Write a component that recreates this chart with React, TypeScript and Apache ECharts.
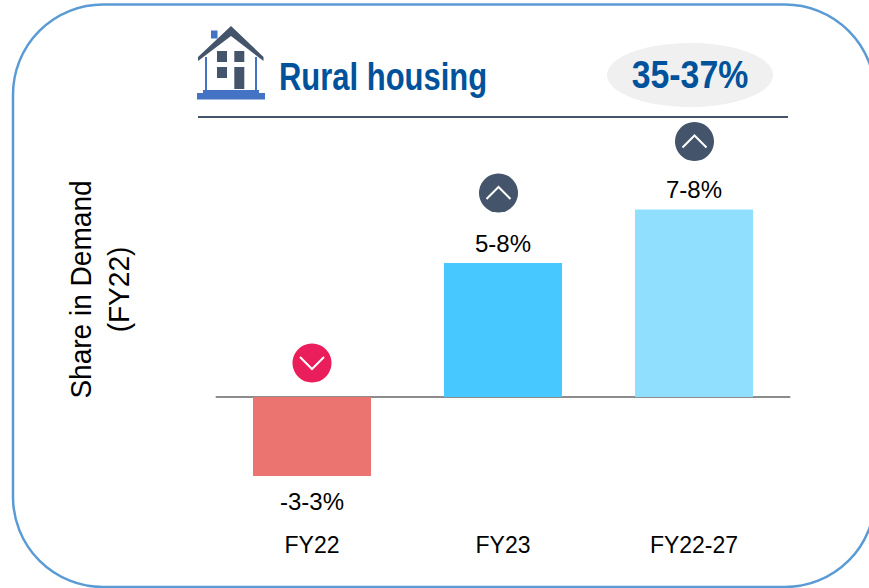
import React, { useEffect, useRef } from "react";
import * as echarts from "echarts";

const categories = ["FY22", "FY23", "FY22-27"];
const values = [-2.95, 5, 7];
const valueLabels = ["-3-3%", "5-8%", "7-8%"];
const barColors = ["#EC7470", "#47C9FF", "#91DFFF"];
const titleText = "Rural housing";
const badgeText = "35-37%";
const axisTitle = "Share in Demand\n(FY22)";
const FONT = '"Liberation Sans", Arial, sans-serif';

function chevron(cx: number, cy: number, up: boolean, fill: string) {
  const d = up ? -6 : 6;
  return [
    { type: "circle", shape: { cx, cy, r: 19.5 }, style: { fill } },
    {
      type: "polyline",
      shape: { points: [[cx - 12, cy - d], [cx, cy + d], [cx + 12, cy - d]] },
      style: { stroke: "#fff", lineWidth: 2, fill: "none" },
    },
  ];
}

const rect = (x: number, y: number, width: number, height: number, fill: string) => ({
  type: "rect",
  shape: { x, y, width, height },
  style: { fill },
});

export default function App() {
  const ref = useRef<HTMLDivElement>(null);
  useEffect(() => {
    document.body.style.margin = "0";
    const chart = echarts.init(ref.current!, null, { renderer: "svg" });
    chart.setOption({
      animation: false,
      backgroundColor: "#fff",
      grid: { left: 216.5, width: 573, top: 129, height: 402, outerBoundsMode: "none" },
      xAxis: {
        type: "category",
        data: categories,
        axisTick: { show: false },
        axisLine: { onZero: true, lineStyle: { color: "#8C8C8C", width: 2 } },
        axisLabel: { color: "#000", fontFamily: FONT, fontSize: 23, margin: 2 },
      },
      yAxis: { type: "value", min: -5, max: 10, show: false, splitLine: { show: false } },
      series: [
        {
          type: "bar",
          barWidth: 118,
          data: values.map((v, i) => ({
            value: v,
            itemStyle: { color: barColors[i] },
            label: {
              show: true,
              position: v < 0 ? "bottom" : "top",
              distance: v < 0 ? 13 : 8,
              formatter: valueLabels[i],
              color: "#000",
              fontFamily: FONT,
              fontSize: 24,
            },
          })),
        },
      ],
      graphic: [
        {
          type: "rect",
          shape: { x: 13, y: 4.5, width: 862, height: 582.5, r: 90 },
          style: { fill: "none", stroke: "#5B9BD5", lineWidth: 2.5 },
        },
        // house icon
        rect(211, 30.5, 6.5, 8, "#4472C4"),
        rect(205, 57, 2, 33, "#4472C4"),
        rect(255, 57, 2, 33, "#4472C4"),
        rect(203, 90, 56, 3, "#4472C4"),
        rect(197, 93, 68, 6.5, "#4472C4"),
        {
          type: "polygon",
          shape: { points: [[231, 26], [263.5, 57], [263.5, 61], [231, 36], [198, 61], [198, 57]] },
          style: { fill: "#44546A" },
        },
        rect(217, 51, 10, 11, "#44546A"),
        rect(234.3, 51, 10, 11, "#44546A"),
        rect(217, 67, 10, 11, "#44546A"),
        rect(234.3, 67, 10, 22, "#44546A"),
        {
          type: "text",
          x: 279,
          y: 77,
          scaleX: 0.815,
          style: {
            text: titleText,
            fill: "#00529B",
            fontFamily: FONT,
            fontWeight: "bold",
            fontSize: 38,
            verticalAlign: "middle",
          },
        },
        { type: "ellipse", shape: { cx: 690, cy: 75, rx: 83, ry: 32 }, style: { fill: "#F0F0F0" } },
        {
          type: "text",
          x: 690,
          y: 75,
          scaleX: 0.89,
          style: {
            text: badgeText,
            fill: "#00529B",
            fontFamily: FONT,
            fontWeight: "bold",
            fontSize: 38,
            align: "center",
            verticalAlign: "middle",
          },
        },
        {
          type: "line",
          shape: { x1: 198, y1: 117, x2: 788, y2: 117 },
          style: { stroke: "#44546A", lineWidth: 2 },
        },
        ...chevron(312, 363, false, "#E91E5A"),
        ...chevron(498.5, 193, true, "#44546A"),
        ...chevron(694.5, 141.5, true, "#44546A"),
        {
          type: "text",
          x: 100,
          y: 289.5,
          rotation: Math.PI / 2,
          scaleX: 0.935,
          style: {
            text: axisTitle,
            fill: "#000",
            fontFamily: FONT,
            fontSize: 30,
            lineHeight: 38,
            align: "center",
            verticalAlign: "middle",
          },
        },
      ],
    });
    return () => chart.dispose();
  }, []);
  return <div ref={ref} style={{ position: "absolute", left: 0, top: 0, width: 869, height: 588 }} />;
}
